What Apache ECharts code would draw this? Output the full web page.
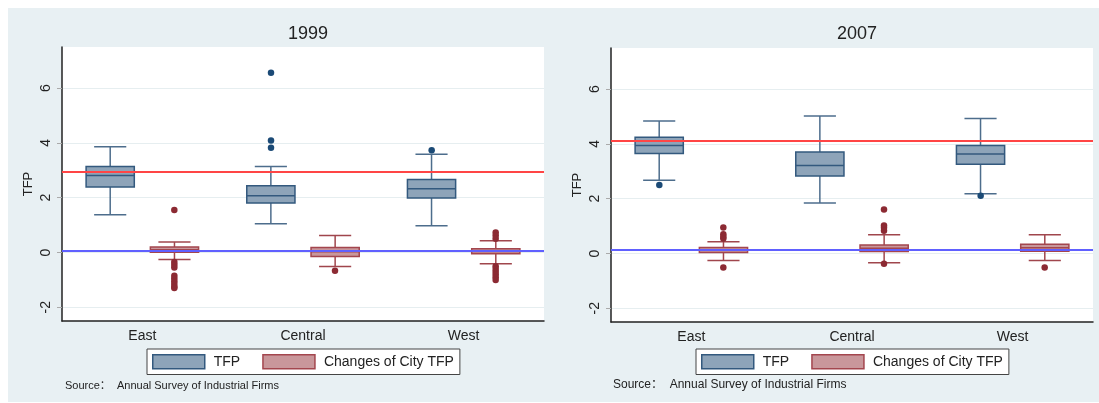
<!DOCTYPE html>
<html>
<head>
<meta charset="utf-8">
<script src="https://cdn.jsdelivr.net/npm/echarts@6/dist/echarts.min.js"></script>
<style>
  html, body { margin: 0; padding: 0; background: #fff; }
  #chart { width: 1099px; height: 403px; }
</style>
</head>
<body>
<div id="chart"></div>
<script>
const regions = ["East", "Central", "West"];
const yTicks = [-2, 0, 2, 4, 6];

// each row: [lower whisker, Q1, median, Q3, upper whisker]
const tfp1999 = [[1.38, 2.39, 2.81, 3.14, 3.86], [1.05, 1.81, 2.07, 2.44, 3.14], [0.98, 1.99, 2.33, 2.66, 3.59]];
const chg1999 = [[-0.26, 0.01, 0.10, 0.20, 0.38], [-0.51, -0.15, 0.03, 0.18, 0.62], [-0.41, -0.05, 0.04, 0.14, 0.43]];
const tfp2007 = [[2.67, 3.65, 3.94, 4.24, 4.84], [1.84, 2.83, 3.21, 3.70, 5.02], [2.18, 3.26, 3.63, 3.94, 4.93]];
const chg2007 = [[-0.26, 0.04, 0.12, 0.22, 0.43], [-0.34, 0.07, 0.19, 0.31, 0.68], [-0.26, 0.08, 0.21, 0.34, 0.68]];

// outliers: [region index, value]
const tfpOut1999 = [[1, 6.56], [1, 4.09], [1, 3.82], [2, 3.73]];
const chgOut1999 = [[0, 1.55], [0, -0.35], [0, -0.45], [0, -0.55], [0, -0.85], [0, -0.95], [0, -1.05], [0, -1.15], [0, -1.25], [0, -1.3],
  [1, -0.67], [2, 0.73], [2, 0.62], [2, 0.5], [2, -0.5], [2, -0.6], [2, -0.7], [2, -0.8], [2, -0.9], [2, -1.0]];
const tfpOut2007 = [[0, 2.5], [2, 2.11]];
const chgOut2007 = [[0, 0.95], [0, 0.7], [0, 0.61], [0, 0.55], [0, -0.51], [1, 1.61], [1, 1.02], [1, 0.94], [1, 0.83], [1, -0.37], [2, -0.51]];

const tfpMean = [2.94, 4.11];
const chgMean = [0.06, 0.12];

const TFP = "TFP";
const CHG = "Changes of City TFP";
const font = "'Liberation Sans', Arial, 'Noto Sans CJK SC', sans-serif";

const tfpStyle = { fill: "#8ea4b9", stroke: "#33597e", whisker: "#4d6d8c", dot: "#1b4a76" };
const chgStyle = { fill: "#c9979b", stroke: "#a3464e", whisker: "#a0464d", dot: "#8c2a33" };

const chart = echarts.init(document.getElementById("chart"));

function boxRenderer(offsetFrac, st) {
  return function (params, api) {
    const cat = api.value(0);
    const band = api.size([1, 0])[0];
    const x = api.coord([cat, 0])[0] + band * offsetFrac;
    const bw = band * 0.3;
    const cw = band * 0.2;
    const y = (k) => api.coord([cat, api.value(k)])[1];
    const yLow = y(1), yQ1 = y(2), yMed = y(3), yQ3 = y(4), yHigh = y(5);
    const ln = { stroke: st.whisker, lineWidth: 1.5 };
    return {
      type: "group",
      children: [
        { type: "line", shape: { x1: x, y1: yQ3, x2: x, y2: yHigh }, style: ln },
        { type: "line", shape: { x1: x, y1: yQ1, x2: x, y2: yLow }, style: ln },
        { type: "line", shape: { x1: x - cw / 2, y1: yHigh, x2: x + cw / 2, y2: yHigh }, style: ln },
        { type: "line", shape: { x1: x - cw / 2, y1: yLow, x2: x + cw / 2, y2: yLow }, style: ln },
        { type: "rect", shape: { x: x - bw / 2, y: yQ3, width: bw, height: yQ1 - yQ3 },
          style: { fill: st.fill, stroke: st.stroke, lineWidth: 1.5 } },
        { type: "line", shape: { x1: x - bw / 2, y1: yMed, x2: x + bw / 2, y2: yMed },
          style: { stroke: st.stroke, lineWidth: 1.5 } }
      ]
    };
  };
}

function boxSeries(name, rows, idx, offsetFrac, st) {
  return {
    name: name,
    type: "custom",
    xAxisIndex: idx,
    yAxisIndex: idx,
    renderItem: boxRenderer(offsetFrac, st),
    encode: { x: 0, y: [1, 2, 3, 4, 5] },
    itemStyle: { color: st.fill, borderColor: st.stroke },
    data: rows.map((r, i) => [i].concat(r)),
    z: 3
  };
}

function outlierSeries(name, pts, idx, dx, st) {
  return {
    name: name,
    type: "scatter",
    xAxisIndex: idx,
    yAxisIndex: idx,
    symbol: "circle",
    symbolSize: 6.5,
    symbolOffset: [dx, 0],
    itemStyle: { color: st.dot, opacity: 1 },
    data: pts,
    z: 4
  };
}

function meanLines(idx) {
  return {
    type: "scatter",
    xAxisIndex: idx,
    yAxisIndex: idx,
    data: [],
    z: 5,
    markLine: {
      silent: true,
      symbol: "none",
      label: { show: false },
      animation: false,
      data: [
        { yAxis: tfpMean[idx], lineStyle: { color: "#ff4545", width: 2, type: "solid" } },
        { yAxis: chgMean[idx], lineStyle: { color: "#6060ff", width: 2, type: "solid" } }
      ]
    }
  };
}

function xAxis(idx) {
  return {
    type: "category",
    gridIndex: idx,
    data: regions,
    axisLine: { onZero: false, lineStyle: { color: "#222", width: 1.5 } },
    axisTick: { show: false },
    axisLabel: { fontSize: 14, color: "#222", fontFamily: font, margin: 8 },
    splitLine: { show: false }
  };
}

function yAxis(idx) {
  return {
    type: "value",
    gridIndex: idx,
    min: -2.5,
    max: 7.5,
    name: "TFP",
    nameLocation: "middle",
    nameRotate: 90,
    nameGap: 27,
    nameTextStyle: { fontSize: 13, color: "#222", fontFamily: font },
    axisLine: { show: true, onZero: false, lineStyle: { color: "#222", width: 1.5 } },
    axisTick: { show: true, length: 5, lineStyle: { color: "#aaa" }, customValues: yTicks },
    axisLabel: { rotate: 90, fontSize: 14, color: "#222", fontFamily: font, margin: 9, customValues: yTicks },
    splitLine: { show: true, lineStyle: { color: "#e6eef0", width: 1 }, customValues: yTicks }
  };
}

function legend(left) {
  return {
    left: left,
    top: 349,
    orient: "horizontal",
    icon: "rect",
    itemWidth: 52,
    itemHeight: 14,
    itemGap: 22,
    padding: [5, 6, 5, 5],
    backgroundColor: "#fff",
    borderColor: "#444",
    borderWidth: 1,
    selectedMode: false,
    textStyle: { fontSize: 14, color: "#222", fontFamily: font, padding: [0, 0, 0, 4] },
    data: [
      { name: TFP, itemStyle: { color: tfpStyle.fill, borderColor: tfpStyle.stroke, borderWidth: 1.5 } },
      { name: CHG, itemStyle: { color: chgStyle.fill, borderColor: chgStyle.stroke, borderWidth: 1.5 } }
    ]
  };
}

const option = {
  animation: false,
  backgroundColor: "#fff",
  graphic: [
    { type: "rect", z: -10, silent: true, shape: { x: 8, y: 8, width: 1091, height: 394 }, style: { fill: "#e8f0f3" } },
    { type: "text", left: 65, top: 380, style: { text: "Source：  Annual Survey of Industrial Firms", fontSize: 11, fill: "#222", fontFamily: font } },
    { type: "text", left: 613, top: 379, style: { text: "Source：  Annual Survey of Industrial Firms", fontSize: 12, fill: "#222", fontFamily: font } }
  ],
  title: [
    { text: "1999", left: 303, top: 20, textAlign: "center", textStyle: { fontSize: 18, fontWeight: "normal", color: "#222", fontFamily: font } },
    { text: "2007", left: 852, top: 20, textAlign: "center", textStyle: { fontSize: 18, fontWeight: "normal", color: "#222", fontFamily: font } }
  ],
  legend: [legend(147), legend(696)],
  grid: [
    { left: 62, top: 47, width: 482, height: 274, show: true, backgroundColor: "#fff", borderWidth: 0 },
    { left: 611, top: 48, width: 482, height: 274, show: true, backgroundColor: "#fff", borderWidth: 0 }
  ],
  xAxis: [xAxis(0), xAxis(1)],
  yAxis: [yAxis(0), yAxis(1)],
  series: [
    boxSeries(TFP, tfp1999, 0, -0.2, tfpStyle),
    boxSeries(CHG, chg1999, 0, 0.2, chgStyle),
    outlierSeries("TFP outliers 1999", tfpOut1999, 0, -32, tfpStyle),
    outlierSeries("Change outliers 1999", chgOut1999, 0, 32, chgStyle),
    meanLines(0),
    boxSeries(TFP, tfp2007, 1, -0.2, tfpStyle),
    boxSeries(CHG, chg2007, 1, 0.2, chgStyle),
    outlierSeries("TFP outliers 2007", tfpOut2007, 1, -32, tfpStyle),
    outlierSeries("Change outliers 2007", chgOut2007, 1, 32, chgStyle),
    meanLines(1)
  ]
};

chart.setOption(option);
</script>
</body>
</html>
